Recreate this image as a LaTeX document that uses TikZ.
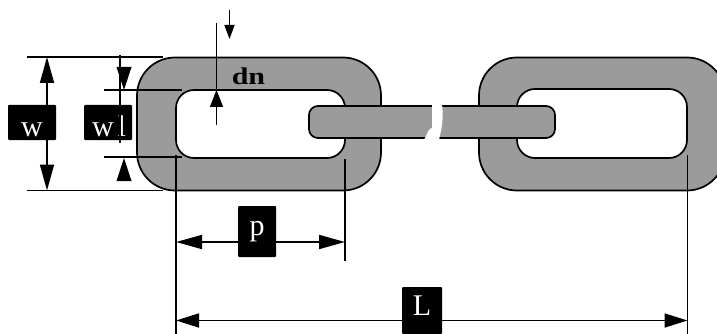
\documentclass[tikz,border=0pt]{standalone}
\usepackage{fontspec}
\setmainfont{Liberation Serif}
\newfontfamily\widefont[FakeStretch=1.25]{Liberation Serif}
\usetikzlibrary{arrows.meta}
\definecolor{linkgray}{HTML}{9B9B9B}
\tikzset{
  x=1pt,y=-1pt,
  linkpart/.style={draw=black,line width=1.7pt,fill=linkgray,even odd rule},
  dimline/.style={draw=black,line width=1.7pt},
  dimthin/.style={draw=black,line width=1.2pt},
  bighead/.style={-{Triangle[length=26pt,width=14pt]}},
  midhead/.style={-{Triangle[length=23pt,width=14pt]}},
  smallhead/.style={-{Triangle[length=17pt,width=13pt]}},
  tinyhead/.style={-{Triangle[length=14pt,width=10pt]}},
  tag/.style={fill=black,text=white,rounded corners=1pt,inner sep=0pt,font=\fontsize{30}{30}\selectfont,anchor=center},
}
\begin{document}
\begin{tikzpicture}
\useasboundingbox (0,0) rectangle (717,334);
\clip (0,0) rectangle (717,334);
% links
\path[linkpart] [rounded corners=38pt] (137,57.5) rectangle (381,190.5)
  [rounded corners=18pt] (176,90) rectangle (345,158);
\path[linkpart] [rounded corners=38pt] (479,57.5) rectangle (725,190.5)
  [rounded corners=18pt] (517,89) rectangle (687,158);
\path[linkpart,rounded corners=9pt] (309,106) rectangle (555,138);
% break in the middle link
\fill[white] (432,104) -- (432,128) .. controls (429,128) and (427,134) .. (424,140) -- (439,140) .. controls (441,130) and (444,122) .. (442,104) -- cycle;
% label boxes
\node[tag,minimum width=48pt,text height=31.5pt,text depth=3.5pt] (w) at (32,122.5) {w};
\node[tag,minimum width=48pt,text height=31.5pt,text depth=3.5pt] (wl) at (108,122.5) {\hspace{2pt}w\hspace{4pt}l};
\node[tag,minimum width=38pt,text height=29.5pt,text depth=21.5pt] (p) at (257,231.5) {p};
\node[tag,minimum width=40pt,text height=28pt,text depth=19pt] (L) at (422,310.5) {L};
\node[font=\widefont\fontsize{24}{24}\selectfont\bfseries,inner sep=0pt,anchor=base] (dn) at (248.5,85) {dn};
% anchors of the dimension lines
\coordinate (wtopL) at (27,57);
\coordinate (wtopR) at (163,57);
\coordinate (wbotL) at (27,190.5);
\coordinate (wbotR) at (163,190.5);
\coordinate (wtop) at (47,57);
\coordinate (wbot) at (47,190.5);
\coordinate (ltopL) at (104,90);
\coordinate (ltopR) at (182,90);
\coordinate (lbotL) at (104,157);
\coordinate (lbotR) at (182,157);
\coordinate (lvtop) at (120,55);
\coordinate (lvbot) at (120,143);
\coordinate (ldownA) at (124,67);
\coordinate (ldownB) at (124,90);
\coordinate (lupA) at (124,181);
\coordinate (lupB) at (124,158);
\coordinate (dntop) at (216.5,23);
\coordinate (dnmid) at (216.5,90);
\coordinate (dnbot) at (216.5,125);
\coordinate (dnarrowA) at (229.5,10);
\coordinate (dnarrowB) at (229.5,39);
\coordinate (ptickL) at (176,155);
\coordinate (Lfoot) at (176,334);
\coordinate (ptickR) at (345,159);
\coordinate (pfoot) at (345,261);
\coordinate (pA) at (176,242);
\coordinate (pB) at (345,242);
\coordinate (LtickR) at (687.5,155);
\coordinate (LfootR) at (687.5,334);
\coordinate (LA) at (176,320.5);
\coordinate (LB) at (687.5,320.5);
% w
\path[dimline] (wtopL) -- (wtopR);
\path[dimline] (wbotL) -- (wbotR);
\draw[dimline,bighead] (w.north -| wtop) -- (wtop);
\draw[dimline,bighead] (w.south -| wtop) -- (wbot);
% wl
\path[dimline] (ltopL) -- (ltopR);
\path[dimline] (lbotL) -- (lbotR);
\path[dimline] (lvtop) -- (lvbot);
\fill (ldownA) ++(-7.5,0) -- ++(15,0) -- (ldownB) -- cycle;
\fill (lupA) ++(-7.5,0) -- ++(15,0) -- (lupB) -- cycle;
% dn
\path[dimline] (dntop) -- (dnmid);
\draw[dimline,smallhead] (dnbot) -- (dnmid);
\draw[dimline,tinyhead] (dnarrowA) -- (dnarrowB);
% p and L
\path[dimthin] (ptickL) -- (Lfoot);
\path[dimline] (ptickR) -- (pfoot);
\path[dimthin] (LtickR) -- (LfootR);
\draw[dimline,bighead] (p.west |- pA) -- (pA);
\draw[dimline,bighead] (p.east |- pB) -- (pB);
\draw[dimline,midhead] (L.west |- LA) -- (LA);
\draw[dimline,midhead] (L.east |- LB) -- (LB);
\end{tikzpicture}
\end{document}
